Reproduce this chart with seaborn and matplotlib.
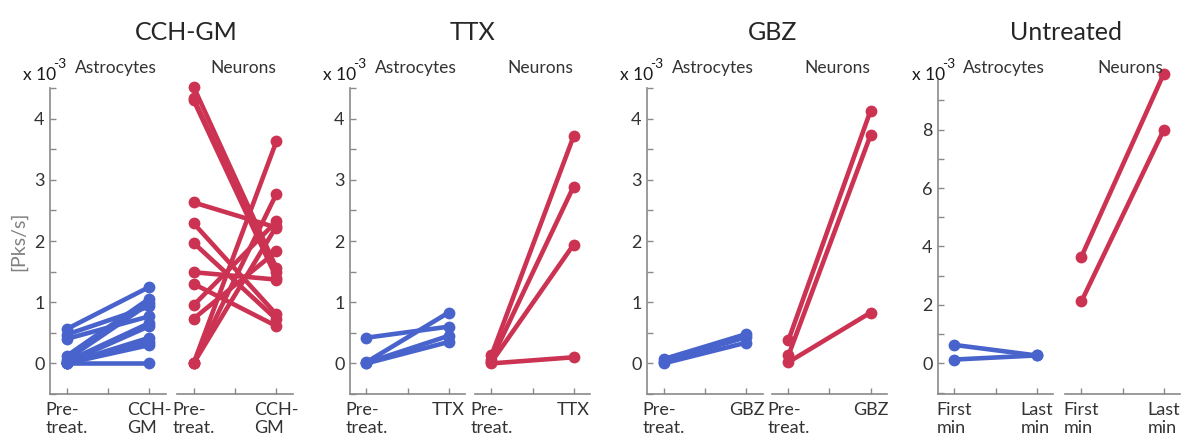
import numpy as np
import pandas as pd
import matplotlib
matplotlib.use("Agg")
import matplotlib.pyplot as plt
import seaborn as sns
from matplotlib.ticker import MultipleLocator

# Peak rates (x 10^-3 Pks/s) for each cell, before and after treatment
cch_astro_pre = [0.56, 0.47, 0.40, 0.12, 0.06, 0.03, 0.01, 0.00, 0.00, 0.00, 0.00]
cch_astro_post = [1.25, 0.93, 0.77, 1.06, 0.98, 0.66, 0.61, 0.42, 0.35, 0.30, 0.00]
cch_neur_pre = [4.52, 4.33, 4.30, 2.63, 2.29, 1.97, 1.49, 1.30, 0.95, 0.73, 0.00, 0.00, 0.00]
cch_neur_post = [1.56, 1.49, 1.40, 2.22, 0.80, 0.72, 1.37, 0.61, 2.32, 1.83, 3.63, 2.77, 2.24]

ttx_astro_pre = [0.42, 0.02, 0.01, 0.00]
ttx_astro_post = [0.60, 0.83, 0.45, 0.35]
ttx_neur_pre = [0.13, 0.06, 0.02, 0.00]
ttx_neur_post = [3.71, 2.89, 1.94, 0.10]

gbz_astro_pre = [0.07, 0.03, 0.00]
gbz_astro_post = [0.48, 0.43, 0.34]
gbz_neur_pre = [0.38, 0.13, 0.02]
gbz_neur_post = [4.13, 3.73, 0.83]

unt_astro_pre = [0.63, 0.13]
unt_astro_post = [0.27, 0.27]
unt_neur_pre = [3.65, 2.12]
unt_neur_post = [9.90, 7.98]

titles = ["CCH-GM", "TTX", "GBZ", "Untreated"]
tick_labels = [
    ("Pre-\ntreat.", "CCH-\nGM"),
    ("Pre-\ntreat.", "TTX"),
    ("Pre-\ntreat.", "GBZ"),
    ("First\nmin", "Last\nmin"),
]
groups = ["Astrocytes", "Neurons"]

panels = [
    ((cch_astro_pre, cch_astro_post), (cch_neur_pre, cch_neur_post)),
    ((ttx_astro_pre, ttx_astro_post), (ttx_neur_pre, ttx_neur_post)),
    ((gbz_astro_pre, gbz_astro_post), (gbz_neur_pre, gbz_neur_post)),
    ((unt_astro_pre, unt_astro_post), (unt_neur_pre, unt_neur_post)),
]

BLUE = "#4864CC"
RED = "#CC3352"
SPINE = "#8a8a8a"
TEXT = "#333333"

sns.set_style("ticks")
plt.rcParams["font.family"] = ["Lato", "DejaVu Sans"]

W, H = 1182, 437
fig = plt.figure(figsize=(W / 100, H / 100), dpi=100)

# axes boxes in pixels: (left, top, right, bottom) for the astrocyte / neuron pair
layout = [
    ((50, 88, 166, 394), (177, 88, 293, 394)),
    ((350, 88, 465, 394), (475, 88, 590, 394)),
    ((647, 88, 763, 394), (772, 88, 887, 394)),
    ((938, 80, 1053, 394), (1065, 80, 1180, 394)),
]
ylims = [(-0.5, 4.5), (-0.5, 4.5), (-0.5, 4.5), (-1.05, 9.7)]
ysteps = [(1, 0.5), (1, 0.5), (1, 0.5), (2, 1)]
title_x = [186, 472, 773, 1066]
scale_x = [23, 323, 620, 912]


def add_box(box):
    l, t, r, b = box
    return fig.add_axes([l / W, 1 - b / H, (r - l) / W, (b - t) / H])


def pairs_frame(pre, post):
    n = len(pre)
    return pd.DataFrame({
        "cond": [1] * n + [2] * n,
        "rate": list(pre) + list(post),
        "cell": list(range(n)) * 2,
    })


for p, (pair, boxes) in enumerate(zip(panels, layout)):
    for g, (series, box, color) in enumerate(zip(pair, boxes, [BLUE, RED])):
        ax = add_box(box)
        df = pairs_frame(*series)
        sns.lineplot(data=df, x="cond", y="rate", units="cell", estimator=None,
                     color=color, lw=3.3, marker="o", markersize=8.5,
                     markeredgewidth=0, ax=ax, legend=False)
        ax.set_xlim(0.8, 2.2)
        ax.set_ylim(*ylims[p])
        ax.set_xticks([1, 1.5, 2])
        ax.set_xticklabels([tick_labels[p][0], "", tick_labels[p][1]],
                           fontsize=13, color=TEXT, multialignment="left",
                           linespacing=1.15)
        major, minor = ysteps[p]
        ax.yaxis.set_major_locator(MultipleLocator(major))
        ax.yaxis.set_minor_locator(MultipleLocator(minor))
        ax.tick_params(axis="both", which="both", direction="in", length=4,
                       width=1, color=SPINE, labelsize=13, labelcolor=TEXT,
                       bottom=True, left=True)
        ax.tick_params(axis="x", pad=6)
        ax.tick_params(axis="y", pad=4)
        ax.set_xlabel("")
        ax.set_ylabel("")
        for s in ["top", "right"]:
            ax.spines[s].set_visible(False)
        ax.spines["bottom"].set_color(SPINE)
        ax.spines["bottom"].set_linewidth(1.2)
        if g == 0:
            ax.spines["left"].set_color(SPINE)
            ax.spines["left"].set_linewidth(1.2)
            ax.set_yticks([v for v in np.arange(0, ylims[p][1], major)])
        else:
            ax.spines["left"].set_visible(False)
            ax.tick_params(axis="y", which="both", left=False, labelleft=False)
        for line in ax.lines:
            line.set_clip_on(False)
        l, t, r, b = box
        fig.text((l + r) / 2 / W + 0.007, 1 - 68 / H, groups[g], ha="center",
                 va="center", fontsize=12.5, color=TEXT)
        if p == 0 and g == 0:
            ax.set_ylabel("[Pks/s]", fontsize=14, color="#808080", labelpad=5)

    fig.text(title_x[p] / W, 1 - 32 / H, titles[p], ha="center", va="center",
             fontsize=18, color="#262626")
    # axis multiplier: "x 10" with a raised exponent
    fig.text(scale_x[p] / W, 1 - 80 / H, "x 10", ha="left", va="baseline",
             fontsize=12.5, color="#1a1a1a")
    fig.text((scale_x[p] + 30) / W, 1 - 68 / H, "-3", ha="left", va="baseline",
             fontsize=10, color="#1a1a1a")

fig.savefig("out.png", dpi=100)
